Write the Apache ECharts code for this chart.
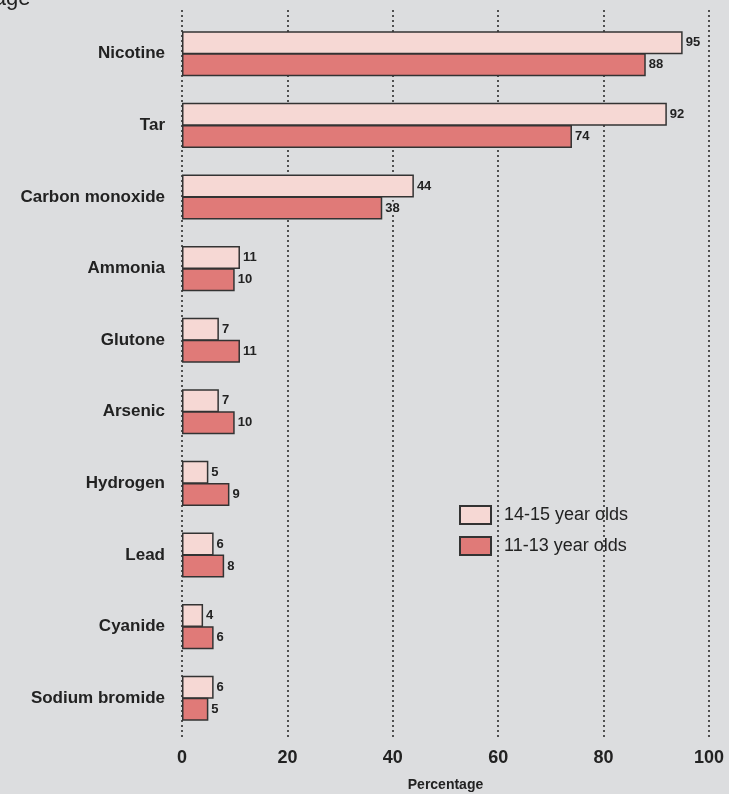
<!DOCTYPE html>
<html>
<head>
<meta charset="utf-8">
<script src="https://cdn.jsdelivr.net/npm/echarts@6/dist/echarts.min.js"></script>
<style>
  html, body { margin: 0; padding: 0; background: #dcdddf; }
  #chart { width: 729px; height: 794px; }
</style>
</head>
<body>
<div id="chart"></div>
<script>
const categories = ["Nicotine", "Tar", "Carbon monoxide", "Ammonia", "Glutone",
  "Arsenic", "Hydrogen", "Lead", "Cyanide", "Sodium bromide"];
const older = [95, 92, 44, 11, 7, 7, 5, 6, 4, 6];   // 14-15 year olds
const younger = [88, 74, 38, 10, 11, 10, 9, 8, 6, 5]; // 11-13 year olds
const xTicks = [0, 20, 40, 60, 80, 100];

const font = "'Liberation Sans Narrow', 'Liberation Sans', sans-serif";
const chart = echarts.init(document.getElementById("chart"));

const barLabel = {
  show: true,
  position: "right",
  distance: 3,
  fontFamily: font,
  fontSize: 13,
  fontWeight: "bold",
  color: "#222",
  backgroundColor: "#dcdddf"
};

chart.setOption({
  backgroundColor: "#dcdddf",
  animation: false,
  graphic: [{
    type: "text",
    left: -82,
    top: -12,
    style: { text: "Percentage", font: "22px " + font, fill: "#222" }
  }],
  grid: [
    { left: 182, right: 20, top: 10, bottom: 57, outerBoundsMode: "none" },
    { left: 182, right: 20, top: 18, bottom: 60, outerBoundsMode: "none" }
  ],
  legend: {
    left: 454,
    top: 500,
    orient: "vertical",
    icon: "rect",
    itemWidth: 31,
    itemHeight: 18,
    itemGap: 11,
    textStyle: { fontFamily: font, fontSize: 18, color: "#222", padding: [0, 0, 0, 8] },
    data: ["14-15 year olds", "11-13 year olds"]
  },
  xAxis: [
    {
      gridIndex: 0,
      type: "value",
      min: 0,
      max: 100,
      interval: 20,
      axisLine: { show: false },
      axisTick: { show: false },
      axisLabel: {
        margin: 12,
        fontFamily: font,
        fontSize: 18,
        fontWeight: "bold",
        color: "#222",
        formatter: v => (xTicks.includes(v) ? String(v) : "")
      },
      splitLine: { show: true, lineStyle: { color: "#222", type: [2, 3], width: 1.5 } },
      name: "Percentage",
      nameLocation: "middle",
      nameGap: 41,
      nameTextStyle: { fontFamily: font, fontSize: 14, fontWeight: "bold", color: "#222" }
    },
    {
      gridIndex: 1,
      type: "value",
      min: 0,
      max: 100,
      show: false
    }
  ],
  yAxis: [
    {
      gridIndex: 0,
      type: "category",
      data: categories,
      show: false
    },
    {
      gridIndex: 1,
      type: "category",
      data: categories,
      inverse: true,
      axisLine: { show: false },
      axisTick: { show: false },
      axisLabel: {
        margin: 17,
        fontFamily: font,
        fontSize: 17,
        fontWeight: "bold",
        color: "#222"
      }
    }
  ],
  series: [
    {
      name: "14-15 year olds",
      type: "bar",
      xAxisIndex: 1,
      yAxisIndex: 1,
      data: older,
      barWidth: 23,
      barGap: "-4%",
      itemStyle: { color: "#f6d8d4", borderColor: "#333", borderWidth: 1.5 },
      label: barLabel
    },
    {
      name: "11-13 year olds",
      type: "bar",
      xAxisIndex: 1,
      yAxisIndex: 1,
      data: younger,
      barWidth: 23,
      barGap: "-4%",
      itemStyle: { color: "#e07a78", borderColor: "#333", borderWidth: 1.5 },
      label: barLabel
    }
  ]
});
</script>
</body>
</html>
